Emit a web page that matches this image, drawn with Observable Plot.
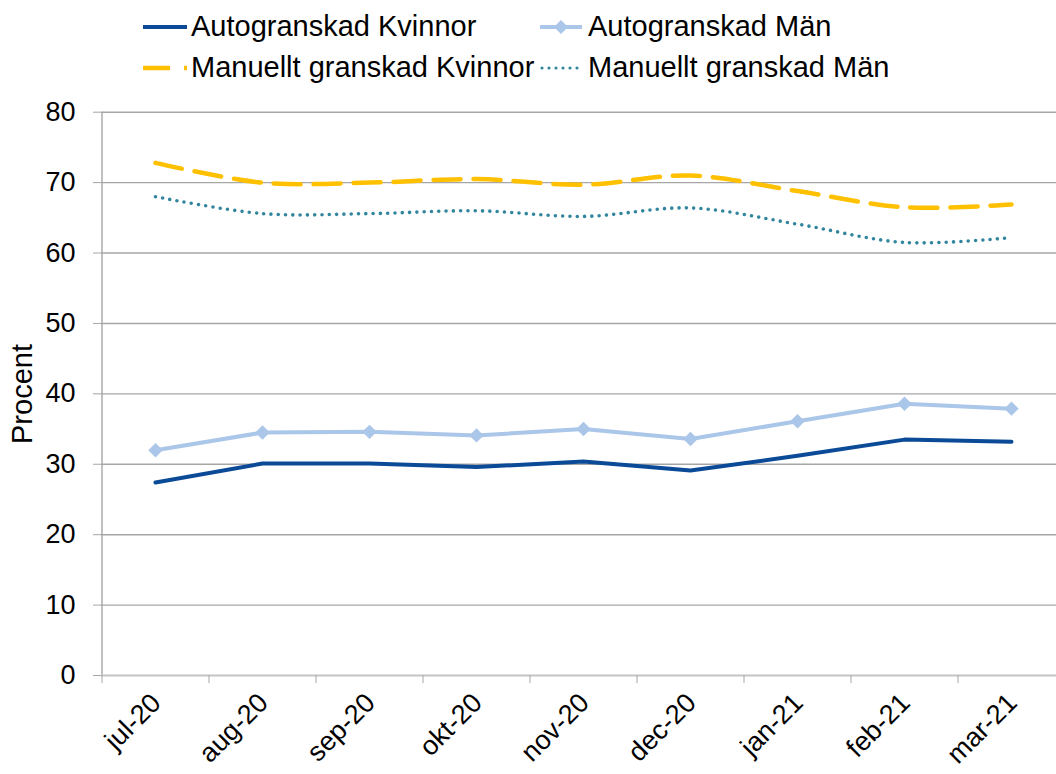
<!DOCTYPE html>
<html>
<head>
<meta charset="utf-8">
<script src="https://cdn.jsdelivr.net/npm/d3@7"></script>
<script src="https://cdn.jsdelivr.net/npm/@observablehq/plot@0.6"></script>
<style>
  html, body { margin: 0; padding: 0; background: #fff; overflow: hidden; }
  body { font-family: "Liberation Sans", Arial, sans-serif; width: 1056px; height: 774px; }
  #legend { height: 90px; box-sizing: border-box; padding-top: 6px; padding-left: 143px;
    display: grid; grid-template-columns: 397px auto; grid-auto-rows: 41px; }
  .item { display: flex; align-items: center; font-size: 29px; color: #000; white-space: nowrap; }
  .item svg { flex: none; margin-right: 4px; }
</style>
</head>
<body>
<div id="legend"></div>
<div id="chart"></div>
<script>
const months = ["jul-20", "aug-20", "sep-20", "okt-20", "nov-20", "dec-20", "jan-21", "feb-21", "mar-21"];
const autoKvinnor = [27.4, 30.1, 30.1, 29.6, 30.4, 29.1, 31.2, 33.5, 33.2];
const autoMan     = [32.0, 34.5, 34.6, 34.1, 35.0, 33.6, 36.1, 38.6, 37.9];
const manKvinnor  = [72.8, 70.0, 70.0, 70.5, 69.7, 71.0, 68.8, 66.5, 66.9];
const manMan      = [68.0, 65.6, 65.6, 66.0, 65.2, 66.4, 64.1, 61.5, 62.2];
const seriesNames = ["Autogranskad Kvinnor", "Autogranskad Män", "Manuellt granskad Kvinnor", "Manuellt granskad Män"];
const yTicks = [0, 10, 20, 30, 40, 50, 60, 70, 80];

const colors = ["#0A4A97", "#AAC6E8", "#FFC000", "#31859C"];

const toRows = vals => vals.map((v, i) => ({i, month: months[i], v}));

// Legend (HTML)
const legend = document.getElementById("legend");
const samples = [
  `<line x1="0" y1="10" x2="44" y2="10" stroke="${colors[0]}" stroke-width="4"/>`,
  `<line x1="0" y1="10" x2="42" y2="10" stroke="${colors[1]}" stroke-width="4"/><path d="M21,3L28,10L21,17L14,10Z" fill="${colors[1]}"/>`,
  `<line x1="0" y1="10" x2="44" y2="10" stroke="${colors[2]}" stroke-width="4.5" stroke-dasharray="27,14"/>`,
  `<line x1="2" y1="10" x2="42" y2="10" stroke="${colors[3]}" stroke-width="3.2" stroke-linecap="round" stroke-dasharray="0,7"/>`
];
seriesNames.forEach((name, k) => {
  const div = document.createElement("div");
  div.className = "item";
  div.innerHTML = `<svg width="44" height="20">${samples[k]}</svg><span>${name}</span>`;
  legend.appendChild(div);
});

const chart = Plot.plot({
  width: 1056,
  height: 684,
  marginLeft: 101,
  marginRight: 0,
  marginTop: 22,
  marginBottom: 99,
  style: {fontFamily: "'Liberation Sans', Arial, sans-serif", background: "#fff", overflow: "hidden"},
  x: {type: "linear", domain: [-0.5, 8.5], range: [101.5, 1064.5]},
  y: {domain: [0, 80], range: [585, 21.7]},
  marks: [
    Plot.ruleY(yTicks.filter(d => d > 0), {stroke: "#a6a6a6", strokeWidth: 1.4}),
    Plot.ruleX([-0.5], {y1: 0, y2: 80, stroke: "#a6a6a6", strokeWidth: 1.4}),
    Plot.ruleY([0], {stroke: "#c4c4c4", strokeWidth: 2}),
    Plot.axisY({ticks: yTicks, tickSize: 8, tickPadding: 18, fontSize: 27, stroke: "#a6a6a6", fill: "#000", label: null}),
    Plot.axisX({ticks: d3.range(-0.5, 8, 1), tickSize: 8, tickFormat: () => "", stroke: "#a6a6a6", label: null}),
    Plot.text(months, {x: (d, i) => i, frameAnchor: "bottom", rotate: -45, textAnchor: "end", dx: 7, dy: 29, fontSize: 27, fill: "#000"}),
    Plot.text(["Procent"], {frameAnchor: "left", textAnchor: "middle", rotate: -90, dx: -79, fontSize: 29, fill: "#000"}),
    Plot.line(toRows(manKvinnor), {x: "i", y: "v", stroke: colors[2], strokeWidth: 4.5, strokeDasharray: "27,13", curve: "catmull-rom"}),
    Plot.line(toRows(manMan), {x: "i", y: "v", stroke: colors[3], strokeWidth: 3.6, strokeLinecap: "round", strokeDasharray: "0,7.3", curve: "catmull-rom"}),
    Plot.line(toRows(autoMan), {x: "i", y: "v", stroke: colors[1], strokeWidth: 4}),
    Plot.dot(toRows(autoMan), {x: "i", y: "v", symbol: "diamond2", r: 6.5, fill: colors[1], stroke: "none"}),
    Plot.line(toRows(autoKvinnor), {x: "i", y: "v", stroke: colors[0], strokeWidth: 4})
  ]
});
document.getElementById("chart").appendChild(chart);
</script>
</body>
</html>
